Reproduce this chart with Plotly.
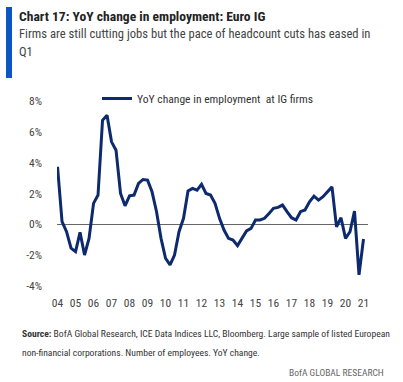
import plotly.graph_objects as go

# Quarterly data 2004Q1 .. 2021Q1
start_year = 2004
yoy_change = [3.73, 0.17, -0.48, -1.55, -1.77, -0.52, -1.99, -0.91,
              1.36, 1.90, 6.75, 7.07, 5.35, 4.81, 2.00, 1.20,
              1.85, 1.90, 2.65, 2.91, 2.87, 2.11, 0.82, -0.91,
              -2.20, -2.63, -1.99, -0.48, 0.39, 2.16, 2.33, 2.22,
              2.59, 2.00, 1.90, 1.36, 0.39, -0.37, -0.91, -1.02,
              -1.38, -0.91, -0.43, -0.26, 0.28, 0.28, 0.39, 0.71,
              1.04, 1.10, 1.25, 0.82, 0.43, 0.28, 0.82, 0.93,
              1.46, 1.83, 1.57, 1.79, 2.11, 2.43, -0.16, 0.43,
              -0.91, -0.48, 0.86, -3.28, -0.95]
x_vals = [start_year + i * 0.25 for i in range(len(yoy_change))]
tick_years = list(range(2004, 2022))
tick_labels = [f"{y % 100:02d}" for y in tick_years]
y_ticks = [-4, -2, 0, 2, 4, 6, 8]
y_tick_labels = [f"{v}%" for v in y_ticks]

W, H = 403, 382
L, T = 57, 101
R = W - 368
B = H - 286
pw, ph = W - L - R, H - T - B

def px(x):  # page pixel -> paper
    return (x - L) / pw

def py(y):
    return 1 - (y - T) / ph

FONT = "Roboto Condensed, Liberation Sans Narrow, Arial Narrow, sans-serif"

fig = go.Figure()
fig.add_trace(go.Scatter(
    x=x_vals, y=yoy_change, mode="lines",
    name="YoY change in employment  at IG firms",
    line=dict(color="#0d2a6e", width=3),
))

fig.update_layout(
    width=W, height=H,
    margin=dict(l=L, r=R, t=T, b=B),
    paper_bgcolor="white", plot_bgcolor="white",
    font=dict(family=FONT, size=11, color="#333333"),
    showlegend=True,
    legend=dict(x=px(97), y=py(84), xanchor="left", yanchor="top",
                bgcolor="rgba(0,0,0,0)", itemwidth=30,
                font=dict(size=11.6, color="#333333"), tracegroupgap=0),
    xaxis=dict(range=[2003.97, 2021.25], tickvals=tick_years, ticktext=tick_labels,
               showgrid=False, zeroline=False, showline=False, ticks="",
               ticklabelstandoff=8, tickfont=dict(size=11.5, color="#444444")),
    yaxis=dict(range=[-4, 8], tickvals=y_ticks, ticktext=y_tick_labels,
               showgrid=False, zeroline=True, zerolinecolor="#666666", zerolinewidth=1.2,
               showline=False, ticks="", ticklabelstandoff=14,
               tickfont=dict(size=11.5, color="#444444")),
)

# blue accent bar
fig.add_shape(type="rect", xref="paper", yref="paper",
              x0=px(6), x1=px(12), y0=py(78), y1=py(7),
              fillcolor="#0a56c2", line_width=0)

ann = [
    dict(x=px(17), y=py(16), text="<b>Chart 17: YoY change in employment: Euro IG</b>",
         font=dict(size=13.6, color="#222222")),
    dict(x=px(17), y=py(33), text="Firms are still cutting jobs but the pace of headcount cuts has eased in",
         font=dict(size=12.6, color="#444444")),
    dict(x=px(17), y=py(51), text="Q1", font=dict(size=12.6, color="#444444")),
    dict(x=px(20), y=py(333), text="<b>Source:</b> BofA Global Research, ICE Data Indices LLC, Bloomberg. Large sample of listed European",
         font=dict(size=9.6, color="#333333")),
    dict(x=px(20), y=py(352), text="non-financial corporations. Number of employees. YoY change.",
         font=dict(size=9.6, color="#333333")),
]
for a in ann:
    fig.add_annotation(xref="paper", yref="paper", xanchor="left", yanchor="middle",
                       showarrow=False, **a)
fig.add_annotation(xref="paper", yref="paper", x=px(386), y=py(372), xanchor="right",
                   yanchor="middle", showarrow=False, text="BofA GLOBAL RESEARCH",
                   font=dict(size=9.5, color="#666666"))

fig.write_html("out.html", config={"displayModeBar": False},
               post_script="document.body.style.margin='0';document.body.style.overflow='hidden';")
